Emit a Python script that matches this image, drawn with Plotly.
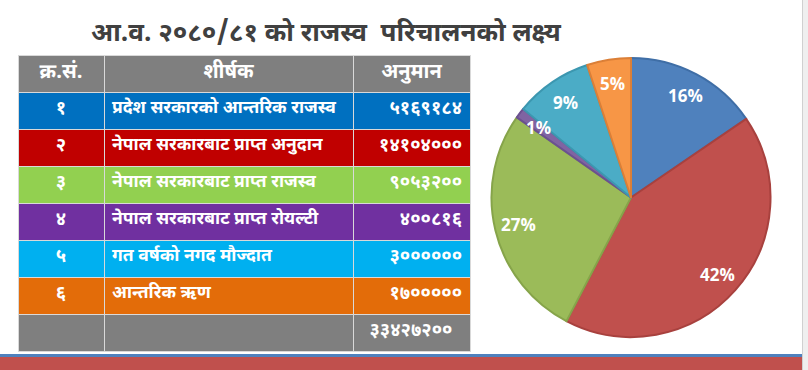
import math
import plotly.graph_objects as go

# ---- data ----
title_text = "आ.व. २०८०/८१ को राजस्व  परिचालनको लक्ष्य"
header = ["क्र.सं.", "शीर्षक", "अनुमान"]
serials = ["१", "२", "३", "४", "५", "६"]
titles = [
    "प्रदेश सरकारको आन्तरिक राजस्व",
    "नेपाल सरकारबाट प्राप्त अनुदान",
    "नेपाल सरकारबाट प्राप्त राजस्व",
    "नेपाल सरकारबाट प्राप्त रोयल्टी",
    "गत वर्षको नगद मौज्दात",
    "आन्तरिक ऋण",
]
amounts = [5169184, 14104000, 9053200, 400816, 3000000, 1700000]
pct_labels = ["16%", "42%", "27%", "1%", "9%", "5%"]

row_colors = ["#0070C0", "#C00000", "#92D050", "#7030A0", "#00B0F0", "#E36C09"]
pie_colors = ["#4F81BD", "#C0504D", "#9BBB59", "#8064A2", "#4BACC6", "#F79646"]
pie_lines = ["#3F6EA6", "#A8413E", "#86A44A", "#6B5190", "#3C97B0", "#DB7F37"]

DEV = str.maketrans("0123456789", "०१२३४५६७८९")
def dev(n):
    return str(n).translate(DEV)

total = sum(amounts)

W, H = 808, 370
FONT = "Noto Sans Devanagari, Nirmala UI, Mangal, Noto Sans, sans-serif"

col1 = serials + [""]
col2 = titles + [""]
col3 = [dev(a) for a in amounts] + [dev(total) + "\u00a0\u00a0"]
fills = row_colors + ["#7F7F7F"]

fig = go.Figure()

tx0, tx1, ty0, ty1 = 18, 471, 55, 352
fig.add_trace(go.Table(
    domain=dict(x=[tx0 / W, tx1 / W], y=[1 - ty1 / H, 1 - ty0 / H]),
    columnwidth=[86, 249, 117],
    header=dict(
        values=header,
        fill_color="#7F7F7F",
        line=dict(color="#D9D9D9", width=1),
        align="center",
        height=37,
        font=dict(family=FONT, size=20, color="white", weight="bold"),
    ),
    cells=dict(
        values=[col1, col2, col3],
        fill_color=[fills, fills, fills],
        line=dict(color="#D9D9D9", width=1),
        align=["center", "left", "right"],
        height=37,
        font=dict(family=FONT, size=[18.5, 17.5, 18.5], color="white", weight="bold"),
    ),
))

cx, cy, r = 631, 197.5, 139.5
fig.add_trace(go.Pie(
    values=amounts,
    labels=titles,
    textinfo="none",
    sort=False,
    direction="clockwise",
    rotation=0,
    marker=dict(colors=pie_colors, line=dict(color=pie_lines, width=2)),
    domain=dict(x=[(cx - r) / W, (cx + r) / W], y=[1 - (cy + r) / H, 1 - (cy - r) / H]),
    showlegend=False,
))

# data labels placed along each slice's mid-angle (derived from the values)
annotations = []
cum = 0.0
for v, lab in zip(amounts, pct_labels):
    mid = (cum + v / 2) / total
    cum += v
    th = 2 * math.pi * mid
    px = cx + 0.83 * r * math.sin(th)
    py = cy - 0.83 * r * math.cos(th)
    annotations.append(dict(
        text=lab, xref="paper", yref="paper", x=px / W, y=1 - py / H,
        xanchor="center", yanchor="middle", showarrow=False,
        font=dict(family="Open Sans, sans-serif", size=17, color="white", weight="bold"),
    ))

annotations.append(dict(
    text=title_text, xref="paper", yref="paper",
    x=326 / W, y=1 - 35 / H, xanchor="center", yanchor="middle",
    showarrow=False,
    font=dict(family=FONT, size=26, color="#404040", weight="bold"),
))

shapes = [
    dict(type="rect", xref="paper", yref="paper", x0=0, x1=802 / W, y0=1 - 357 / H, y1=1 - 354 / H,
         fillcolor="#4F81BD", line=dict(width=0), layer="below"),
    dict(type="rect", xref="paper", yref="paper", x0=0, x1=802 / W, y0=0, y1=1 - 357 / H,
         fillcolor="#C0504D", line=dict(width=0), layer="below"),
    dict(type="rect", xref="paper", yref="paper", x0=802 / W, x1=1, y0=0, y1=1,
         fillcolor="#EFEFEF", line=dict(width=0), layer="below"),
    dict(type="line", xref="paper", yref="paper", x0=802.5 / W, x1=802.5 / W, y0=0, y1=1,
         line=dict(color="#D0D0D0", width=1)),
]

fig.update_layout(
    width=W, height=H,
    margin=dict(l=0, r=0, t=0, b=0),
    paper_bgcolor="white",
    plot_bgcolor="white",
    shapes=shapes,
    annotations=annotations,
)

fig.write_html("out.html", config={"displayModeBar": False},
               post_script="document.body.style.margin='0';")
